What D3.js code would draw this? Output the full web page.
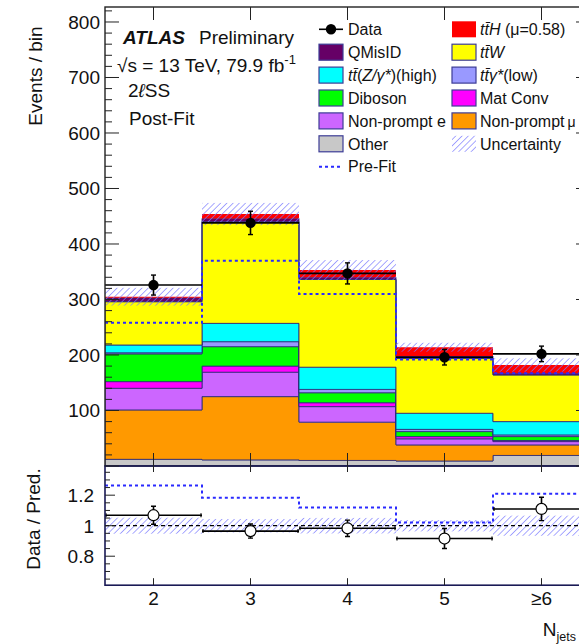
<!DOCTYPE html>
<html>
<head>
<meta charset="utf-8">
<script src="https://cdn.jsdelivr.net/npm/d3@7"></script>
<style>
  html, body { margin: 0; padding: 0; background: #fff; overflow: hidden; }
  svg { display: block; font-family: "Liberation Sans", Arial, Helvetica, sans-serif; }
</style>
</head>
<body>
<svg id="chart" width="579" height="644"></svg>
<script>
// ---- data: events per N_jets bin (post-fit, 2lSS) ----
const binLabels   = ["2", "3", "4", "5", "\u22656"];
const nJets       = [2, 3, 4, 5, 6];
const other       = [12, 11, 10, 9, 19];
const nonPromptMu = [89, 114, 69, 29, 19];
const nonPromptE  = [39, 44, 28, 11, 6];
const matConv     = [12, 11, 7, 4, 2];
const diboson     = [50, 35, 18, 9, 7];
const ttGammaLow  = [2, 9, 6, 4, 3];
const ttZHigh     = [14, 33, 40, 29, 24];
const ttW         = [78, 183, 158, 99, 84];
const qMisID      = [7, 6, 4, 4, 3];
const ttH         = [2, 8, 13, 16, 15];
const dataCounts  = [326, 438, 347, 196, 202];
const dataErr     = [18, 21, 19, 14, 14];
const preFit      = [258, 370, 310, 192, 167];
const totalUnc    = [16, 20, 18, 8, 12];
const yTicksMain  = [100, 200, 300, 400, 500, 600, 700, 800];
const yTicksRatio = [0.8, 1, 1.2];

// ---- styling ----
const colors = {
  other: "#c8c8c8", nonPromptMu: "#ff9900", nonPromptE: "#cc66ff", matConv: "#ff00ff",
  diboson: "#00ff00", ttGammaLow: "#9999ff", ttZHigh: "#00ffff", ttW: "#ffff00",
  qMisID: "#660066", ttH: "#ff0000"
};
const keys = ["other", "nonPromptMu", "nonPromptE", "matConv", "diboson",
              "ttGammaLow", "ttZHigh", "ttW", "qMisID", "ttH"];
const outline = "#2e2e7a";
const FS = 19;

const table = nJets.map((n, i) => ({
  n, other: other[i], nonPromptMu: nonPromptMu[i], nonPromptE: nonPromptE[i],
  matConv: matConv[i], diboson: diboson[i], ttGammaLow: ttGammaLow[i],
  ttZHigh: ttZHigh[i], ttW: ttW[i], qMisID: qMisID[i], ttH: ttH[i]
}));
const series = d3.stack().keys(keys)(table);
const totals = table.map((d, i) => series[series.length - 1][i][1]);

// ---- geometry ----
const L = 105, R = 590, T = 7, MB = 466, RB = 585.2;
const x = d3.scaleLinear().domain([1.5, 6.5]).range([L, R]);
const y = d3.scaleLinear().domain([0, 827]).range([MB, T]);
const r = d3.scaleLinear().domain([0.61, 1.39]).range([RB, MB + 0.2]);

const svg = d3.select("#chart");
const defs = svg.append("defs");
const hatch = defs.append("pattern").attr("id", "hatch")
  .attr("patternUnits", "userSpaceOnUse").attr("width", 4.4).attr("height", 4.4)
  .attr("patternTransform", "rotate(45)");
hatch.append("line").attr("x1", 0).attr("y1", -1).attr("x2", 0).attr("y2", 6)
  .attr("stroke", "#7a7aff").attr("stroke-width", 1.3);
defs.append("clipPath").attr("id", "clipMain").append("rect")
  .attr("x", L).attr("y", T).attr("width", R - L).attr("height", MB - T);
defs.append("clipPath").attr("id", "clipRatio").append("rect")
  .attr("x", L).attr("y", MB).attr("width", R - L).attr("height", RB - MB);

// step helpers: one point per lower bin edge, plus the final upper edge
function stepPoints(vals) {
  const pts = vals.map((v, i) => ({ e: nJets[i] - 0.5, v }));
  pts.push({ e: nJets[nJets.length - 1] + 0.5, v: vals[vals.length - 1] });
  return pts;
}

// ---- main panel ----
const main = svg.append("g").attr("clip-path", "url(#clipMain)");

const area = d3.area().curve(d3.curveStepAfter)
  .x(d => x(d.e)).y0(d => y(d.y0)).y1(d => y(d.y1));

series.forEach(s => {
  const pts = s.map((d, i) => ({ e: nJets[i] - 0.5, y0: d[0], y1: d[1] }));
  const last = s[s.length - 1];
  pts.push({ e: nJets[nJets.length - 1] + 0.5, y0: last[0], y1: last[1] });
  main.append("path").attr("d", area(pts))
    .attr("fill", colors[s.key])
    .attr("stroke", s.key === "ttH" ? "none" : outline)
    .attr("stroke-width", 1).attr("stroke-opacity", 0.85);
});

// uncertainty band
main.selectAll(".unc").data(nJets).join("rect")
  .attr("x", n => x(n - 0.5)).attr("width", n => x(n + 0.5) - x(n - 0.5))
  .attr("y", (n, i) => y(totals[i] + totalUnc[i]))
  .attr("height", (n, i) => y(totals[i] - totalUnc[i]) - y(totals[i] + totalUnc[i]))
  .attr("fill", "url(#hatch)");

// pre-fit prediction
const stepLine = d3.line().curve(d3.curveStepAfter).x(d => x(d.e));
main.append("path").attr("d", stepLine.y(d => y(d.v))(stepPoints(preFit)))
  .attr("fill", "none").attr("stroke", "#2a2aff").attr("stroke-width", 2)
  .attr("stroke-dasharray", "3,3");

// data
const dataG = main.append("g");
nJets.forEach((n, i) => {
  const cy = y(dataCounts[i]);
  dataG.append("line").attr("x1", x(n - 0.5)).attr("x2", x(n + 0.5))
    .attr("y1", cy).attr("y2", cy).attr("stroke", "#000").attr("stroke-width", 1.6);
  const yt = y(dataCounts[i] + dataErr[i]), yb = y(dataCounts[i] - dataErr[i]);
  dataG.append("line").attr("x1", x(n)).attr("x2", x(n)).attr("y1", yt).attr("y2", yb)
    .attr("stroke", "#000").attr("stroke-width", 1.6);
  [yt, yb].forEach(v => dataG.append("line").attr("x1", x(n) - 2.5).attr("x2", x(n) + 2.5)
    .attr("y1", v).attr("y2", v).attr("stroke", "#000").attr("stroke-width", 1.4));
  dataG.append("circle").attr("cx", x(n)).attr("cy", cy).attr("r", 5.2).attr("fill", "#000");
});

// ---- ratio panel ----
const ratio = svg.append("g").attr("clip-path", "url(#clipRatio)");
ratio.selectAll(".runc").data(nJets).join("rect")
  .attr("x", n => x(n - 0.5)).attr("width", n => x(n + 0.5) - x(n - 0.5))
  .attr("y", (n, i) => r(1 + totalUnc[i] / totals[i]))
  .attr("height", (n, i) => r(1 - totalUnc[i] / totals[i]) - r(1 + totalUnc[i] / totals[i]))
  .attr("fill", "url(#hatch)");
ratio.append("line").attr("x1", L).attr("x2", R).attr("y1", r(1)).attr("y2", r(1))
  .attr("stroke", "#000").attr("stroke-width", 1.2).attr("stroke-dasharray", "4,3");
const preFitRatio = dataCounts.map((d, i) => d / preFit[i]);
ratio.append("path").attr("d", stepLine.y(d => r(d.v))(stepPoints(preFitRatio)))
  .attr("fill", "none").attr("stroke", "#2a2aff").attr("stroke-width", 2)
  .attr("stroke-dasharray", "3,3");
nJets.forEach((n, i) => {
  const v = dataCounts[i] / totals[i];
  const e = dataErr[i] / totals[i];
  ratio.append("line").attr("x1", x(n - 0.5)).attr("x2", x(n + 0.5))
    .attr("y1", r(v)).attr("y2", r(v)).attr("stroke", "#000").attr("stroke-width", 1.6);
  [x(n - 0.5) + 1, x(n + 0.5) - 1].forEach(xx => ratio.append("line")
    .attr("x1", xx).attr("x2", xx).attr("y1", r(v) - 2).attr("y2", r(v) + 2)
    .attr("stroke", "#000").attr("stroke-width", 1.2));
  ratio.append("line").attr("x1", x(n)).attr("x2", x(n)).attr("y1", r(v + e)).attr("y2", r(v - e))
    .attr("stroke", "#000").attr("stroke-width", 1.6);
  [r(v + e), r(v - e)].forEach(vv => ratio.append("line").attr("x1", x(n) - 2.5).attr("x2", x(n) + 2.5)
    .attr("y1", vv).attr("y2", vv).attr("stroke", "#000").attr("stroke-width", 1.4));
  ratio.append("circle").attr("cx", x(n)).attr("cy", r(v)).attr("r", 5.5)
    .attr("fill", "#fff").attr("stroke", "#000").attr("stroke-width", 1.2);
});

// ---- frames and ticks ----
const axes = svg.append("g").attr("stroke", "#222").attr("fill", "none");
axes.append("rect").attr("x", L).attr("y", T).attr("width", R - L).attr("height", MB - T)
  .attr("stroke-width", 1.4);
axes.append("rect").attr("x", L).attr("y", MB).attr("width", R - L).attr("height", RB - MB)
  .attr("stroke", "#1a1a55").attr("stroke-width", 1.6);

d3.range(0, 827, 20).forEach(v => {
  const len = v % 100 === 0 ? 14 : 7;
  axes.append("line").attr("x1", L).attr("x2", L + len).attr("y1", y(v)).attr("y2", y(v)).attr("stroke-width", 1);
  axes.append("line").attr("x1", R).attr("x2", R - len).attr("y1", y(v)).attr("y2", y(v)).attr("stroke-width", 1);
});
d3.range(0.65, 1.37, 0.05).forEach(v => {
  const major = Math.abs(v * 10 - Math.round(v * 10)) < 1e-6 && Math.round(v * 10) % 2 === 0;
  const len = major ? 10 : 5;
  axes.append("line").attr("x1", L).attr("x2", L + len).attr("y1", r(v)).attr("y2", r(v)).attr("stroke-width", 1);
  axes.append("line").attr("x1", R).attr("x2", R - len).attr("y1", r(v)).attr("y2", r(v)).attr("stroke-width", 1);
});
nJets.forEach(n => {
  const xx = x(n);
  axes.append("line").attr("x1", xx).attr("x2", xx).attr("y1", T).attr("y2", T + 13).attr("stroke-width", 1);
  axes.append("line").attr("x1", xx).attr("x2", xx).attr("y1", MB).attr("y2", MB - 13).attr("stroke-width", 1);
  axes.append("line").attr("x1", xx).attr("x2", xx).attr("y1", MB).attr("y2", MB + 6).attr("stroke-width", 1);
  axes.append("line").attr("x1", xx).attr("x2", xx).attr("y1", RB).attr("y2", RB - 7).attr("stroke-width", 1);
});

// ---- tick labels ----
const txt = svg.append("g").attr("fill", "#111").attr("font-size", FS);
yTicksMain.forEach(v => txt.append("text").attr("x", 100).attr("y", y(v)).attr("dy", "0.36em")
  .attr("text-anchor", "end").text(v));
yTicksRatio.forEach(v => txt.append("text").attr("x", 94).attr("y", r(v)).attr("dy", "0.36em")
  .attr("text-anchor", "end").text(d3.format("~g")(v)));
binLabels.forEach((b, i) => txt.append("text").attr("x", x(nJets[i])).attr("y", 605)
  .attr("text-anchor", "middle").text(b));

// axis titles
txt.append("text").attr("transform", "translate(41.5,76) rotate(-90)")
  .attr("text-anchor", "middle").text("Events / bin");
txt.append("text").attr("transform", "translate(40,519) rotate(-90)")
  .attr("text-anchor", "middle").text("Data / Pred.");
const xt = txt.append("text").attr("x", 576).attr("y", 636).attr("text-anchor", "end");
xt.append("tspan").text("N");
xt.append("tspan").attr("font-size", 12.5).attr("dy", 5).text("jets");

// ---- labels ----
const atl = txt.append("text").attr("x", 123).attr("y", 44);
atl.append("tspan").attr("font-weight", "bold").attr("font-style", "italic").text("ATLAS");
atl.append("tspan").attr("x", 199).text("Preliminary");
const lumi = txt.append("text").attr("x", 117).attr("y", 72);
lumi.append("tspan").text("\u221As = 13 TeV, 79.9 fb");
lumi.append("tspan").attr("font-size", 13).attr("dy", -8).text("-1");
const chan = txt.append("text").attr("x", 128).attr("y", 97);
chan.append("tspan").text("2");
chan.append("tspan").attr("font-style", "italic").text("\u2113");
chan.append("tspan").text("SS");
txt.append("text").attr("x", 129).attr("y", 125).text("Post-Fit");

// ---- legend ----
const leg = svg.append("g").attr("font-size", 16).attr("fill", "#111");
const rowY = i => 29.3 + 22.9 * i;
const col1 = [
  { kind: "data", parts: [["Data", 0]] },
  { kind: "box", key: "qMisID", parts: [["QMisID", 0]] },
  { kind: "box", key: "ttZHigh", parts: [["tt\u0304", 1], ["(", 0], ["Z/\u03b3*", 1], [")(high)", 0]] },
  { kind: "box", key: "diboson", parts: [["Diboson", 0]] },
  { kind: "box", key: "nonPromptE", parts: [["Non-prompt e", 0]] },
  { kind: "box", key: "other", parts: [["Other", 0]] },
  { kind: "prefit", parts: [["Pre-Fit", 0]] }
];
const col2 = [
  { kind: "box", key: "ttH", parts: [["tt\u0304H", 1], [" (\u03bc=0.58)", 0]] },
  { kind: "box", key: "ttW", parts: [["tt\u0304W", 1]] },
  { kind: "box", key: "ttGammaLow", parts: [["tt\u0304\u03b3*", 1], ["(low)", 0]] },
  { kind: "box", key: "matConv", parts: [["Mat Conv", 0]] },
  { kind: "box", key: "nonPromptMu", parts: [["Non-prompt", 0], ["\u03bc", 0, 14, 3]] },
  { kind: "unc", parts: [["Uncertainty", 0]] }
];
function drawLegend(entries, bx, tx) {
  entries.forEach((e, i) => {
    const cy = rowY(i);
    if (e.kind === "box") {
      leg.append("rect").attr("x", bx).attr("y", cy - 8).attr("width", 24).attr("height", 16)
        .attr("fill", colors[e.key]).attr("stroke", e.key === "ttH" ? "none" : "#3c3c96")
        .attr("stroke-width", 1.2);
    } else if (e.kind === "unc") {
      leg.append("rect").attr("x", bx).attr("y", cy - 8).attr("width", 24).attr("height", 16)
        .attr("fill", "url(#hatch)");
    } else if (e.kind === "data") {
      leg.append("line").attr("x1", bx).attr("x2", bx + 24).attr("y1", cy).attr("y2", cy)
        .attr("stroke", "#000").attr("stroke-width", 1.6);
      leg.append("circle").attr("cx", bx + 12).attr("cy", cy).attr("r", 5.2).attr("fill", "#000");
    } else if (e.kind === "prefit") {
      leg.append("line").attr("x1", bx).attr("x2", bx + 24).attr("y1", cy).attr("y2", cy)
        .attr("stroke", "#2a2aff").attr("stroke-width", 2).attr("stroke-dasharray", "3,3");
    }
    const t = leg.append("text").attr("x", tx).attr("y", cy + 5.7);
    e.parts.forEach(p => t.append("tspan").attr("font-style", p[1] ? "italic" : null)
      .attr("font-size", p[2] || null).attr("dx", p[3] || null).text(p[0]));
  });
}
drawLegend(col1, 319, 348);
drawLegend(col2, 452, 480);
</script>
</body>
</html>
